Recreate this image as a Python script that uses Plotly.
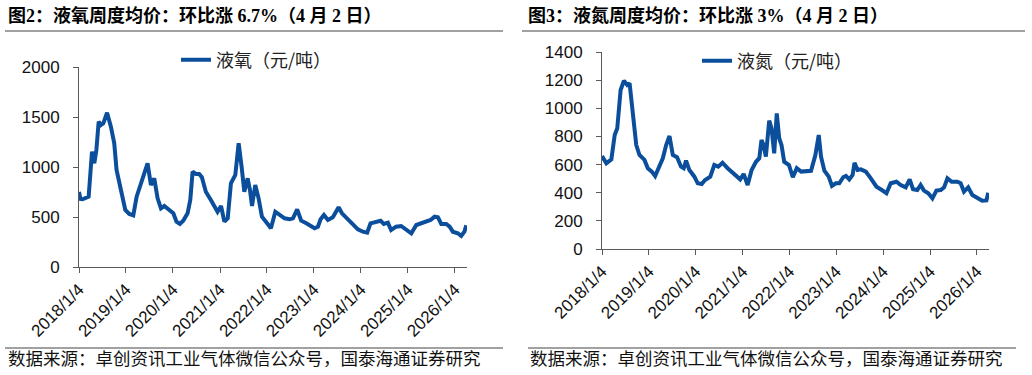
import plotly.graph_objects as go

# ---------------- data ----------------
o2_dates = [
    "2018-01-04", "2018-01-15", "2018-02-01", "2018-02-28", "2018-03-20", "2018-04-15", "2018-05-03",
    "2018-05-19", "2018-06-06", "2018-06-24", "2018-07-12", "2018-08-10", "2018-09-09", "2018-10-05",
    "2018-10-23", "2018-11-26", "2018-12-30", "2019-01-30", "2019-03-02", "2019-03-28", "2019-04-30",
    "2019-05-26", "2019-06-21", "2019-07-17", "2019-08-12", "2019-09-07", "2019-10-03", "2019-10-29",
    "2019-12-07", "2020-01-07", "2020-02-01", "2020-02-27", "2020-03-24", "2020-04-27", "2020-05-18",
    "2020-06-05", "2020-06-30", "2020-07-26", "2020-08-16", "2020-09-16", "2020-10-25", "2020-11-20",
    "2020-12-16", "2021-01-12", "2021-02-07", "2021-03-05", "2021-03-30", "2021-05-03", "2021-05-29",
    "2021-06-21", "2021-07-12", "2021-08-07", "2021-08-25", "2021-09-10", "2021-10-05", "2021-10-31",
    "2021-11-26", "2021-12-27", "2022-02-04", "2022-03-10", "2022-04-13", "2022-05-21", "2022-06-29",
    "2022-07-25", "2022-08-27", "2022-09-27", "2022-11-06", "2022-12-14", "2023-01-09", "2023-02-04",
    "2023-02-25", "2023-03-23", "2023-04-23", "2023-05-31", "2023-06-26", "2023-07-15", "2023-08-10",
    "2023-09-25", "2023-11-03", "2023-12-12", "2024-01-20", "2024-02-22", "2024-03-19", "2024-05-02",
    "2024-06-05", "2024-06-30", "2024-08-01", "2024-08-26", "2024-10-04", "2024-11-12", "2024-12-21",
    "2025-01-30", "2025-03-10", "2025-04-18", "2025-05-26", "2025-06-29", "2025-07-30", "2025-08-25",
    "2025-09-20", "2025-10-29", "2025-11-24", "2025-12-19", "2026-01-27", "2026-02-22", "2026-03-19",
    "2026-03-26", "2026-04-02",
]
o2_values = [
    750, 680, 677, 695, 703, 1153, 1037,
    1170, 1453, 1420, 1437, 1543, 1403, 1237,
    970, 770, 570, 530, 517, 703, 837,
    953, 1037, 820, 887, 687, 587, 610,
    570, 537, 453, 430, 463, 537, 670,
    953, 930, 930, 897, 753, 670, 603,
    553, 610, 453, 487, 837, 920, 1237,
    1003, 753, 887, 770, 610, 820, 687,
    503, 453, 387, 553, 520, 487, 477,
    487, 577, 463, 437, 403, 387, 403,
    477, 520, 470, 497, 553, 597, 537,
    477, 420, 377, 353, 343, 437, 453,
    463, 430, 443, 370, 403, 410, 377,
    337, 420, 437, 453, 470, 503, 497,
    430, 430, 403, 353, 337, 310, 353,
    390, 416,
]

n2_dates = [
    "2018-01-04", "2018-02-07", "2018-03-18", "2018-04-13", "2018-05-03", "2018-05-29", "2018-06-24",
    "2018-07-20", "2018-08-07", "2018-09-02", "2018-09-28", "2018-10-23", "2018-12-01", "2018-12-27",
    "2019-01-27", "2019-02-22", "2019-03-28", "2019-04-23", "2019-05-19", "2019-06-14", "2019-07-10",
    "2019-08-12", "2019-09-12", "2019-10-03", "2019-10-21", "2019-11-16", "2019-12-25", "2020-01-20",
    "2020-02-20", "2020-03-17", "2020-04-27", "2020-05-28", "2020-06-28", "2020-07-31", "2020-09-09",
    "2020-10-17", "2020-11-20", "2020-12-16", "2021-01-12", "2021-02-12", "2021-03-15", "2021-04-18",
    "2021-05-14", "2021-05-31", "2021-06-16", "2021-07-04", "2021-07-30", "2021-08-17", "2021-09-07",
    "2021-09-27", "2021-10-16", "2021-11-03", "2021-11-24", "2021-12-31", "2022-01-30", "2022-03-02",
    "2022-04-05", "2022-05-14", "2022-06-21", "2022-07-25", "2022-08-20", "2022-09-07", "2022-10-03",
    "2022-11-06", "2022-12-01", "2022-12-31", "2023-01-27", "2023-02-27", "2023-03-20", "2023-04-15",
    "2023-05-11", "2023-05-26", "2023-06-19", "2023-07-15", "2023-08-22", "2023-09-30", "2023-11-13",
    "2023-12-25", "2024-01-30", "2024-03-03", "2024-04-17", "2024-05-20", "2024-06-28", "2024-07-29",
    "2024-08-24", "2024-09-26", "2024-10-22", "2024-11-17", "2024-12-21", "2025-01-22", "2025-02-22",
    "2025-03-28", "2025-04-23", "2025-05-19", "2025-06-21", "2025-08-04", "2025-08-30", "2025-09-25",
    "2025-10-28", "2025-11-29", "2026-01-07", "2026-02-14", "2026-03-19", "2026-03-26", "2026-04-02",
]
n2_values = [
    661, 609, 637, 810, 858, 1130, 1196,
    1166, 1178, 964, 739, 668, 633, 574,
    550, 519, 597, 645, 739, 803, 668,
    652, 585, 574, 628, 561, 514, 467,
    462, 490, 514, 597, 585, 613, 574,
    543, 514, 495, 533, 455, 561, 620,
    645, 775, 739, 656, 912, 858, 680,
    964, 787, 739, 620, 597, 510, 574,
    550, 556, 556, 668, 810, 656, 557,
    514, 448, 467, 467, 510, 519, 495,
    526, 613, 561, 566, 550, 502, 443,
    419, 396, 467, 478, 455, 438, 495,
    424, 419, 455, 415, 396, 360, 415,
    419, 438, 502, 478, 478, 467, 407,
    438, 384, 360, 343, 345, 388, 400,
]

tick_vals = ["2018-01-04", "2019-01-04", "2020-01-04", "2021-01-04", "2022-01-04",
             "2023-01-04", "2024-01-04", "2025-01-04", "2026-01-04"]
tick_text = ["2018/1/4", "2019/1/4", "2020/1/4", "2021/1/4", "2022/1/4",
             "2023/1/4", "2024/1/4", "2025/1/4", "2026/1/4"]

titles = ["图2：液氧周度均价：环比涨 6.7%（4 月 2 日）", "图3：液氮周度均价：环比涨 3%（4 月 2 日）"]
series_names = ["液氧（元/吨）", "液氮（元/吨）"]
source_text = "数据来源：卓创资讯工业气体微信公众号，国泰海通证券研究"

# ---------------- layout helpers ----------------
W, H = 1032, 375
def px(x):
    return x / W
def py(y):
    return 1 - y / H

LINE_COLOR = "#0b4f9c"
AXIS_COLOR = "#595959"
TICK_FONT = dict(family="Liberation Sans, Arial, sans-serif", size=17, color="#111")
CJK = "Liberation Serif, Noto Sans CJK SC, sans-serif"

fig = go.Figure()
fig.add_trace(go.Scatter(x=o2_dates, y=o2_values, mode="lines", name=series_names[0],
                         line=dict(color=LINE_COLOR, width=4), xaxis="x", yaxis="y",
                         legend="legend"))
fig.add_trace(go.Scatter(x=n2_dates, y=n2_values, mode="lines", name=series_names[1],
                         line=dict(color=LINE_COLOR, width=4), xaxis="x2", yaxis="y2",
                         legend="legend2"))

xcommon = dict(showgrid=False, zeroline=False, showline=True, linecolor=AXIS_COLOR, linewidth=1,
               ticks="outside", ticklen=5, tickcolor=AXIS_COLOR, tickwidth=1, automargin=False,
               tickvals=tick_vals, ticktext=tick_text, tickangle=-45, tickfont=TICK_FONT,
               range=["2018-01-04", "2026-04-08"], fixedrange=True)
ycommon = dict(showgrid=False, zeroline=False, showline=True, linecolor=AXIS_COLOR, linewidth=1,
               ticks="outside", ticklen=5, tickcolor=AXIS_COLOR, tickwidth=1, automargin=False,
               tickfont=TICK_FONT, ticklabelstandoff=10, fixedrange=True)

legend_font = dict(family="Noto Sans CJK SC, sans-serif", size=18, color="#222")

fig.update_layout(
    width=W, height=H, margin=dict(l=0, r=0, t=0, b=0, autoexpand=False),
    paper_bgcolor="white", plot_bgcolor="white",
    showlegend=True,
    xaxis=dict(domain=[px(79), px(467)], anchor="y", **xcommon),
    yaxis=dict(domain=[py(267), py(67)], anchor="x", range=[0, 2000], dtick=500, **ycommon),
    xaxis2=dict(domain=[px(602), px(989)], anchor="y2", **xcommon),
    yaxis2=dict(domain=[py(249), py(52)], anchor="x2", range=[0, 1400], dtick=200, **ycommon),
    legend=dict(x=px(176), y=py(60), xanchor="left", yanchor="middle", bgcolor="rgba(0,0,0,0)",
                font=legend_font, itemwidth=30),
    legend2=dict(x=px(697), y=py(61), xanchor="left", yanchor="middle", bgcolor="rgba(0,0,0,0)",
                 font=legend_font, itemwidth=30),
)

# titles
for x0, txt in [(6, titles[0]), (526, titles[1])]:
    fig.add_annotation(x=px(x0), y=py(16), xref="paper", yref="paper", xanchor="left",
                       yanchor="middle", showarrow=False, text="<b>" + txt + "</b>",
                       font=dict(family=CJK, size=18, color="#000"))
# source notes
for x0 in (6, 528):
    fig.add_annotation(x=px(x0), y=py(357), xref="paper", yref="paper", xanchor="left",
                       yanchor="middle", showarrow=False, text=source_text,
                       font=dict(family="Noto Sans CJK SC, sans-serif", size=17.5, color="#111"))

# separator lines
for (x0, x1, y0) in [(5, 503, 31), (522, 1025, 31), (5, 503, 348), (528, 1016, 348)]:
    fig.add_shape(type="line", xref="paper", yref="paper", x0=px(x0), x1=px(x1),
                  y0=py(y0), y1=py(y0), line=dict(color="#444", width=1.2))

# remove the browser's default 8px page margin so the figure sits at the window's corner
fig.write_html("out.html", config={"displayModeBar": False},
               post_script="document.body.style.margin='0';")
